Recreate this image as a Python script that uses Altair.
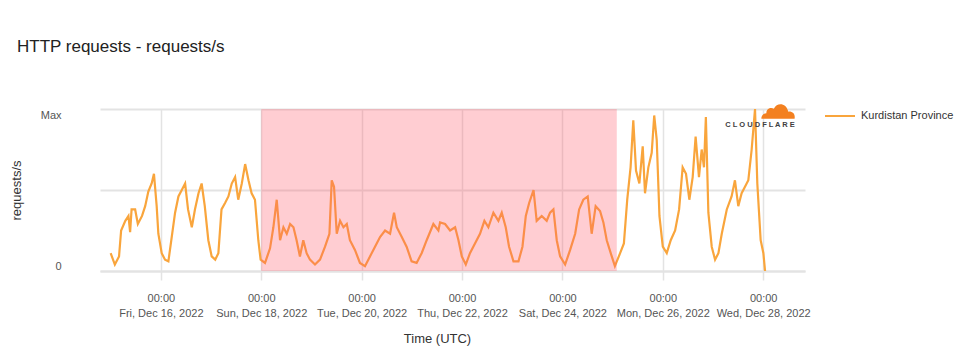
import altair as alt
import pandas as pd

# ---- data (hours after 2022-12-15 00:00 UTC, value as % of max) ----
hours = [0, 2, 4, 5, 7, 8.5, 9.3, 10, 11.7, 13, 15, 16.5, 18, 19.6, 20.7, 22, 22.8, 24.4, 26, 27.6,
         29, 30.8, 32.4, 34, 35.6, 37, 38.8, 40.3, 42, 43.5, 45, 46.7, 48.3, 50, 51.5, 53, 54.7, 56.3,
         57.9, 59.5, 61, 62.7, 64.3, 65.9, 67.4, 69, 70.6, 71.7, 73.8, 76.2, 77.8, 79.4, 81, 82.6, 84.2,
         85.8, 87.4, 88.9, 90.5, 92.1, 93.7, 95.3, 97.7, 100.1, 102.5, 104.6, 105.7, 106.8, 108.1, 109.7,
         111.3, 112.9, 114.4, 116.8, 119.2, 121.6, 124, 126.4, 128.8, 131.2, 133.6, 135.5, 136.8, 139.2,
         141.5, 143.9, 146.3, 148.7, 151.1, 154.3, 156.7, 157.5, 159.9, 162.3, 164.7, 166.3, 167.9, 169.8,
         171.8, 174.2, 176.6, 178.7, 180.6, 183, 185.4, 187, 188.9, 190.5, 192.6, 195, 196.9, 198.5, 200.1,
         202.2, 203.7, 206.1, 208.5, 210.1, 211.7, 213.3, 214.9, 217.3, 219.7, 222.1, 224, 226, 228.1, 230,
         231.9, 234, 235.6, 237.2, 239.6, 241.1, 243.6, 245.4, 247, 248.6, 249.9, 251.2, 252.8, 254.4,
         255.5, 257.1, 258.7, 259.9, 261.1, 262.4, 264, 265.9, 267.8, 269.9, 271.8, 273.5, 275.1, 276.7,
         278.3, 279.7, 281.3, 282.6, 283.7, 284.6, 285.8, 287.4, 289, 290.6, 292.2, 294.6, 296.9, 298.5,
         300.1, 301.7, 303.3, 304.9, 306.5, 308.1, 309.2, 310.8, 312.1, 312.9]
values = [11, 4, 9, 25, 31, 34, 24, 38, 38, 29, 34, 40, 49, 54, 60, 40, 23, 11, 7, 6,
          19, 36, 46, 50, 54, 38, 27, 38, 48, 54, 40, 19, 9, 7, 11, 38, 42, 46,
          54, 58, 44, 54, 66, 56, 48, 44, 19, 7, 5, 14, 27, 44, 19, 27, 23,
          29, 27, 19, 9, 19, 11, 7, 4, 7, 15, 23, 56, 52, 23, 31,
          27, 29, 19, 13, 5, 3, 9, 15, 21, 25, 23, 36, 27, 21,
          15, 6, 5, 11, 19, 29, 25, 30, 29, 25, 27, 19, 9, 4,
          11, 17, 23, 31, 27, 36, 31, 36, 27, 15, 6, 6, 15, 34, 42,
          50, 31, 34, 31, 36, 38, 19, 9, 4, 13, 23, 38, 44, 46, 23,
          40, 37, 30, 19, 9, 3, 11, 17, 44, 64, 93, 62, 54, 77,
          48, 64, 73, 96, 81, 34, 15, 11, 19, 25, 38, 64, 60, 44,
          58, 83, 58, 75, 64, 95, 36, 15, 7, 11, 23, 38, 46, 56,
          40, 48, 52, 56, 75, 100, 54, 19, 11, 0]
series_name = "Kurdistan Province"
tick_days = ["2022-12-16", "2022-12-18", "2022-12-20", "2022-12-22", "2022-12-24", "2022-12-26", "2022-12-28"]
shade_start_hour = 72      # Dec 18 00:00
shade_end_hour = 242       # Dec 25 ~02:00
domain_hours = [-5.1, 332]

HOUR = 3600000
base_ms = int(pd.Timestamp("2022-12-15", tz="UTC").timestamp() * 1000)

df = pd.DataFrame({
    "time": [base_ms + h * HOUR for h in hours],
    "value": values,
    "series": series_name,
})
shade = pd.DataFrame({
    "start": [base_ms + shade_start_hour * HOUR],
    "end": [base_ms + shade_end_hour * HOUR],
    "lo": [0], "hi": [100],
})
tick_ms = [int(pd.Timestamp(d, tz="UTC").timestamp() * 1000) for d in tick_days]
x_domain = [base_ms + domain_hours[0] * HOUR, base_ms + domain_hours[1] * HOUR]

GRID = "#e3e3e3"
LABEL = "#555555"

xscale = alt.Scale(type="utc", domain=x_domain, nice=False)
yscale = alt.Scale(domain=[0, 100], nice=False)

line = alt.Chart(df).mark_line(strokeWidth=2.2, interpolate="linear").encode(
    x=alt.X("time:T", scale=xscale, axis=alt.Axis(
        title="Time (UTC)", values=tick_ms,
        labelExpr="[utcFormat(datum.value, '%H:%M'), utcFormat(datum.value, '%a, %b %d, %Y')]",
        labelFontSize=11, labelColor=LABEL, labelLineHeight=15, labelPadding=12,
        tickSize=9, tickColor=GRID, tickWidth=1.5, domainColor=GRID, domainWidth=2,
        grid=True, gridColor=GRID, gridWidth=1.5,
        titleFontSize=13, titleFontWeight="normal", titleColor="#333333",
        titleX=337, titleY=61, labelFlush=False)),
    y=alt.Y("value:Q", scale=yscale, axis=alt.Axis(
        title="requests/s", values=[0, 50, 100],
        labelExpr="datum.value == 100 ? 'Max' : (datum.value == 0 ? '0' : '')",
        labelFontSize=11, labelColor=LABEL, labelPadding=39, ticks=False, tickSize=0,
        domain=False, grid=True, gridColor=GRID, gridWidth=2, labelFlush=True,
        titleFontSize=13, titleFontWeight="normal", titleColor="#333333",
        titleX=-77, titleY=81)),
    color=alt.Color("series:N", scale=alt.Scale(range=["#f9a53c"]), legend=alt.Legend(
        title=None, orient="none", legendX=724, legendY=-9,
        symbolType="stroke", symbolSize=900, symbolStrokeWidth=2,
        labelFontSize=11, labelColor="#333333", labelOffset=5)),
)

rect = alt.Chart(shade).mark_rect(color="#ff5869", opacity=0.3).encode(
    x=alt.X("start:T", scale=xscale), x2="end:T",
    y=alt.Y("lo:Q", scale=yscale), y2="hi:Q",
)

logo_df = pd.DataFrame({"a": [0]})
cloud_path = ("M-1,0.4 L1,0.4 C1.05,0.15 0.9,-0.05 0.62,-0.02 C0.5,-0.55 -0.05,-0.6 -0.25,-0.2 "
              "C-0.45,-0.32 -0.72,-0.18 -0.7,0.08 C-0.9,0.08 -1.02,0.25 -1,0.4 Z")
cloud = alt.Chart(logo_df).mark_point(shape=cloud_path, filled=True, color="#f38020",
                                      opacity=1, size=1100, strokeWidth=0).encode(
    x=alt.value(678), y=alt.value(3))
logo_text = alt.Chart(logo_df).mark_text(text="C L O U D F L A R E", fontSize=7.5,
                                         fontWeight="bold", color="#404041").encode(
    x=alt.value(660), y=alt.value(16))

chart = alt.layer(line, rect, cloud, logo_text).properties(
    width=705, height=162,
    padding={"left": 92, "top": 101, "right": 150, "bottom": 78},
    autosize=alt.AutoSizeParams(type="none"),
    title=alt.Title("HTTP requests - requests/s", anchor="start", frame="group",
                    dx=-83, offset=31, fontSize=17, fontWeight="normal", color="#222222",
                    baseline="alphabetic"),
).configure(font="Liberation Sans").configure_view(stroke=None)

chart.save("out.html", embed_options={"renderer": "svg", "actions": False})
